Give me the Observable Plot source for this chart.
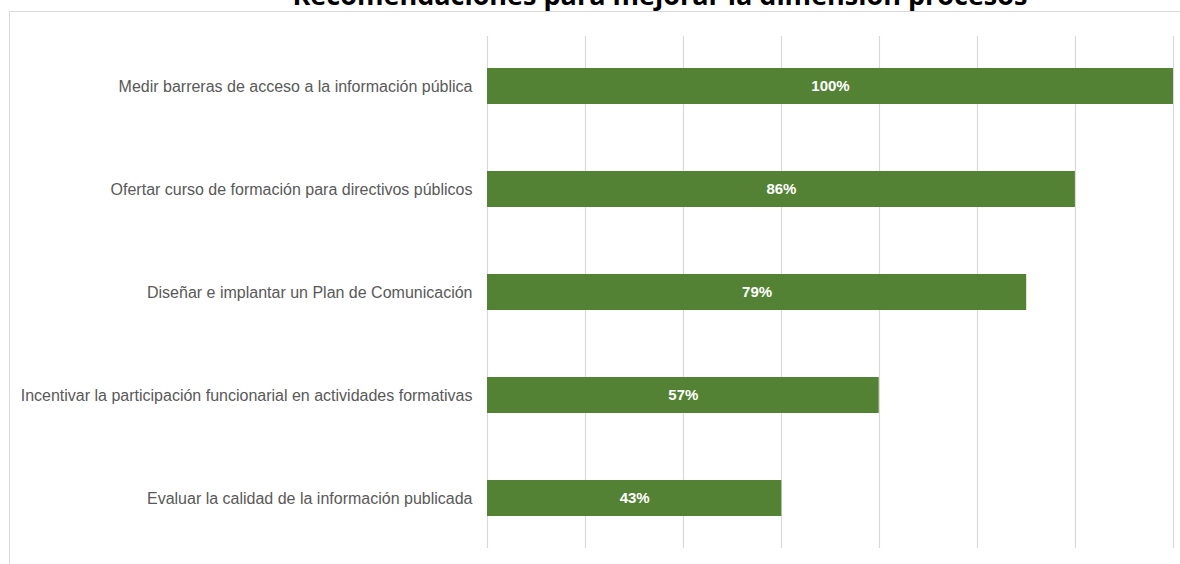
<!DOCTYPE html>
<html>
<head>
<meta charset="utf-8">
<script src="https://cdn.jsdelivr.net/npm/d3@7"></script>
<script src="https://cdn.jsdelivr.net/npm/@observablehq/plot@0.6"></script>
<style>
  html, body { margin: 0; padding: 0; background: #fff; overflow: hidden; }
  #wrap { position: relative; width: 1180px; height: 564px; overflow: hidden; }
  #frame { position: absolute; left: 9px; top: 11px; width: 1200px; height: 600px; border: 1px solid #d9d9d9; }
  #title { position: absolute; left: 0; width: 1320px; top: -24px; text-align: center; font-family: "Open Sans", sans-serif; font-weight: bold; font-size: 27px; color: #000; white-space: nowrap; }
  #chart { position: absolute; left: 0; top: 0; }
</style>
</head>
<body>
<div id="wrap">
  <div id="frame"></div>
  <div id="title">Recomendaciones para mejorar la dimensión procesos</div>
  <div id="chart"></div>
</div>
<script>
const categories = [
  "Medir barreras de acceso a la información pública",
  "Ofertar curso de formación para directivos públicos",
  "Diseñar e implantar un Plan de Comunicación",
  "Incentivar la participación funcionarial en actividades formativas",
  "Evaluar la calidad de la información publicada"
];
const values = [1.0, 0.857, 0.786, 0.571, 0.429];
const gridTicks = [0, 1/7, 2/7, 3/7, 4/7, 5/7, 6/7, 1];

const data = categories.map((c, i) => ({category: c, value: values[i]}));

const chart = Plot.plot({
  width: 1180,
  height: 564,
  marginLeft: 487,
  marginRight: 7,
  marginTop: 36,
  marginBottom: 16,
  style: {fontFamily: "'Liberation Sans', sans-serif", background: "transparent"},
  x: {domain: [0, 1], axis: null},
  y: {domain: categories, paddingInner: 0.651, paddingOuter: 0.308, label: null},
  marks: [
    Plot.ruleX(gridTicks, {stroke: "#d9d9d9", strokeWidth: 1.2, strokeOpacity: 1}),
    Plot.barX(data, {y: "category", x: "value", fill: "#548235"}),
    Plot.text(data, {
      y: "category",
      x: d => d.value / 2,
      text: d => Math.round(d.value * 100) + "%",
      fill: "white",
      fontWeight: "bold",
      fontSize: 15
    }),
    Plot.axisY({tickSize: 0, tickPadding: 15, fontSize: 16, color: "#595959", label: null})
  ]
});
document.getElementById("chart").appendChild(chart);
</script>
</body>
</html>
